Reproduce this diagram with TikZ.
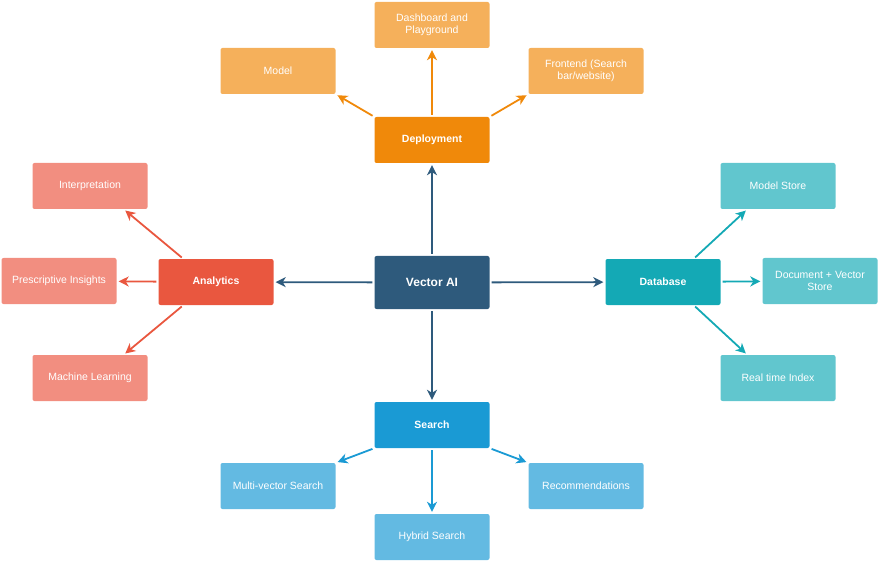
\documentclass[tikz,border=0pt]{standalone}
\usepackage{fontspec}
\setmainfont{Liberation Sans}
\usetikzlibrary{arrows.meta}
\definecolor{hubblue}{HTML}{2E5A7C}
\definecolor{deporange}{HTML}{F0890A}
\definecolor{deplight}{HTML}{F5B05B}
\definecolor{anared}{HTML}{E9573F}
\definecolor{analight}{HTML}{F28E80}
\definecolor{dbteal}{HTML}{14A9B5}
\definecolor{dblight}{HTML}{61C6CE}
\definecolor{srchblue}{HTML}{1A9AD4}
\definecolor{srchlight}{HTML}{63BAE2}
\begin{document}
\begin{tikzpicture}[x=1pt,y=-1pt]
\tikzstyle{every node}=[minimum width=115pt, minimum height=46pt, inner sep=1pt, rounded corners=2pt, text=white, align=center, font=\fontsize{10.5}{12.5}\selectfont]
\tikzstyle{hub}=[fill=hubblue, minimum height=53pt, font=\bfseries\fontsize{12}{14}\selectfont]
\tikzstyle{branch}=[font=\bfseries\fontsize{10.5}{12.5}\selectfont]
\tikzstyle{link}=[line width=1.8pt, shorten <=2pt, shorten >=2pt, -{Stealth[length=10pt,width=10pt,inset=3pt]}]
\useasboundingbox (0,0) rectangle (880,561);
% centre
\draw (432,282.5) node (vai) [hub] {Vector AI};
% deployment
\draw (432,140) node (dep) [branch,fill=deporange] {Deployment};
\draw (432,25) node (dash) [fill=deplight] {Dashboard and\\Playground};
\draw (278,71) node (model) [fill=deplight] {Model};
\draw (586,71) node (front) [fill=deplight] {Frontend (Search\\bar/website)};
% analytics
\draw (216,282) node (ana) [branch,fill=anared] {Analytics};
\draw (90,186) node (interp) [fill=analight] {Interpretation};
\draw (59,281) node (presc) [fill=analight] {Prescriptive Insights};
\draw (90,378) node (ml) [fill=analight] {Machine Learning};
% database
\draw (663,282) node (db) [branch,fill=dbteal] {Database};
\draw (778,186) node (mstore) [fill=dblight] {Model Store};
\draw (820,281) node (docstore) [fill=dblight] {Document + Vector\\Store};
\draw (778,378) node (rtindex) [fill=dblight] {Real time Index};
% search
\draw (432,425) node (srch) [branch,fill=srchblue] {Search};
\draw (278,486) node (multi) [fill=srchlight] {Multi-vector Search};
\draw (432,537) node (hybrid) [fill=srchlight] {Hybrid Search};
\draw (586,486) node (recs) [fill=srchlight] {Recommendations};
% links
\draw[link,hubblue] (vai) -- (dep);
\draw[link,hubblue] (vai) -- (ana);
\draw[link,hubblue] (vai) -- (db);
\draw[link,hubblue] (vai) -- (srch);
\draw[link,deporange] (dep) -- (dash);
\draw[link,deporange] (dep.north west) -- (model.south east);
\draw[link,deporange] (dep.north east) -- (front.south west);
\draw[link,anared] ([xshift=25pt]ana.north west) -- ([xshift=-24pt]interp.south east);
\draw[link,anared] (ana) -- (presc);
\draw[link,anared] ([xshift=25pt]ana.south west) -- ([xshift=-24pt]ml.north east);
\draw[link,dbteal] ([xshift=-27pt]db.north east) -- ([xshift=27pt]mstore.south west);
\draw[link,dbteal] (db) -- (docstore);
\draw[link,dbteal] ([xshift=-27pt]db.south east) -- ([xshift=27pt]rtindex.north west);
\draw[link,srchblue] (srch.south west) -- (multi.north east);
\draw[link,srchblue] (srch) -- (hybrid);
\draw[link,srchblue] (srch.south east) -- (recs.north west);
\end{tikzpicture}
\end{document}
